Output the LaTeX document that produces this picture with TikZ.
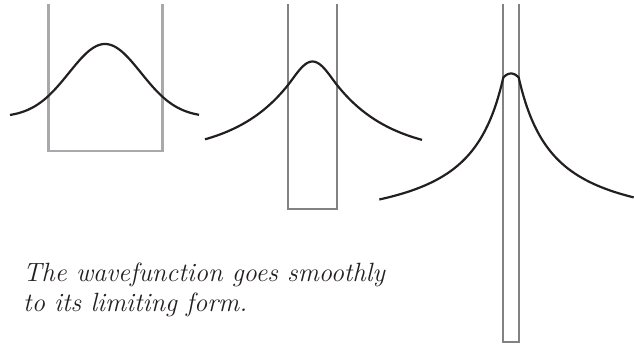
\documentclass[tikz,border=0pt]{standalone}
\usepackage{fontspec}
\begin{document}
\begin{tikzpicture}[x=1pt,y=-1pt,
  wallA/.style={draw={rgb,255:red,167;green,169;blue,172},line width=2.4pt,line join=miter},
  wallB/.style={draw={rgb,255:red,128;green,130;blue,133},line width=2.2pt,line join=miter},
  wave/.style={draw={rgb,255:red,35;green,31;blue,32},line width=2.2pt,line join=round},
  caption/.style={anchor=base west,inner sep=0pt,font=\fontsize{26.4}{29}\selectfont\itshape,text={rgb,255:red,35;green,31;blue,32}}]
\useasboundingbox (0,0) rectangle (634,346);
% wells
\draw[wallA] (48.3,4) -- (48.3,150.7) -- (162.3,150.7) -- (162.3,4);
\draw[wallB] (288.3,4) -- (288.3,209) -- (337,209) -- (337,4);
\draw[wallB] (503.3,4) -- (503.3,341.7) -- (518.7,341.7) -- (518.7,4);
% wavefunction 1
\draw[wave] plot[domain=-95:94,samples=120,smooth] ({105+\x},{44+73.2*(1-exp(-(\x*\x)/2592))});
% wavefunction 2
\draw[wave] plot[domain=83:0,samples=50,smooth] ({288-\x},{155-70*exp(-0.018*\x)})
  -- plot[domain=-24.5:24.5,samples=40,smooth] ({312.5+\x},{61.5+17.04*(1-cos(0.08*\x r))})
  -- plot[domain=0:85,samples=50,smooth] ({337+\x},{155-70*exp(-0.018*\x)});
% wavefunction 3
\draw[wave] plot[domain=124:0,samples=70,smooth] ({503.3-\x},{77.5+157.2*(\x/(\x+35.8))})
  -- plot[domain=-7.7:7.7,samples=15,smooth] ({511+\x},{73.5+4*(\x/7.7)*(\x/7.7)})
  -- plot[domain=0:115,samples=70,smooth] ({518.7+\x},{77.5+157.2*(\x/(\x+35.8))});
% caption
\node[caption] (cap1) at (23,281) {The wavefunction goes smoothly};
\node[caption] (cap2) at (23,311) {to its limiting form.};
\end{tikzpicture}
\end{document}
